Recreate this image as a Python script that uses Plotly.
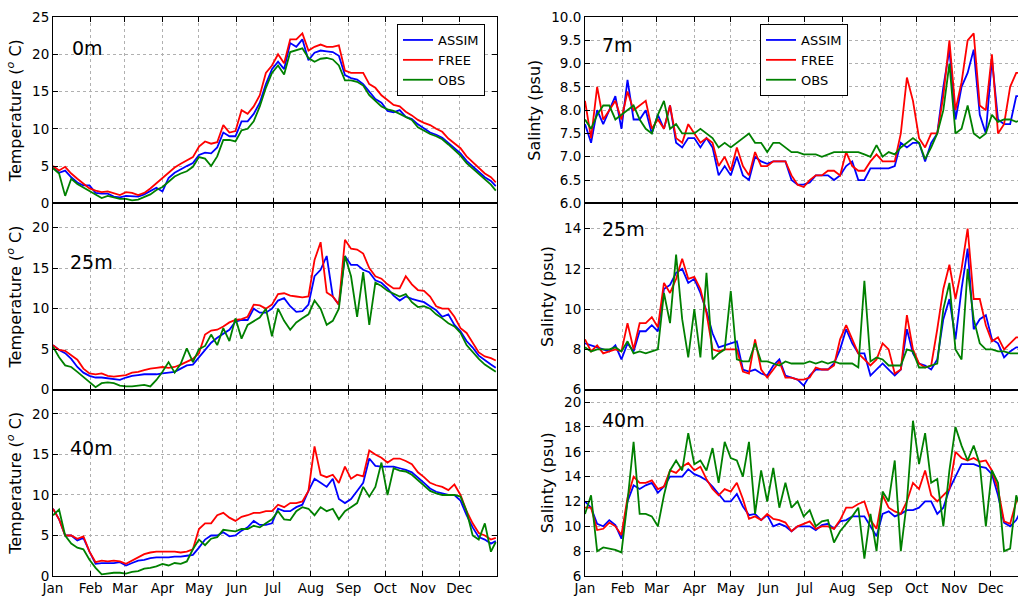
import pandas as pd
import plotly.graph_objects as go
from plotly.subplots import make_subplots

# ---------------- data ----------------
days = list(range(0, 361, 5)) + [364]
months = ["Jan", "Feb", "Mar", "Apr", "May", "Jun", "Jul", "Aug", "Sep", "Oct", "Nov", "Dec"]

# Temperature 0 m
t0_assim = [4.8,4.1,4.4,3.5,2.8,2.4,2.4,1.4,1.3,1.3,
            0.9,0.8,1.0,1.0,0.9,1.2,1.6,2.1,1.6,3.4,
            4.1,4.6,5.0,5.4,6.5,6.8,6.7,7.5,9.5,9.0,
            9.0,11.0,11.0,12.0,13.5,16.0,18.0,19.0,18.0,21.5,
            21.0,22.0,19.2,20.2,20.5,20.4,20.3,19.8,17.2,16.8,
            16.6,16.0,15.0,14.0,13.5,12.4,12.2,12.5,11.6,11.3,
            10.6,10.0,9.5,9.2,8.8,8.1,7.4,6.7,5.7,5.0,
            4.2,3.5,3.0,2.3]
t0_free = [5.0,4.4,4.9,4.0,3.3,2.6,2.0,1.7,1.5,1.6,
           1.3,1.1,1.5,1.4,1.1,1.4,2.0,2.7,3.3,4.1,
           4.8,5.3,5.8,6.2,7.6,8.3,8.0,8.2,10.5,9.5,
           9.7,12.5,12.0,13.0,14.5,17.5,18.5,20.0,18.8,22.0,
           22.0,22.8,20.5,21.0,21.3,21.0,21.0,21.2,17.8,17.5,
           17.5,17.5,16.0,15.5,14.5,13.8,13.2,13.0,12.3,11.8,
           11.2,10.8,10.5,10.0,9.6,8.7,8.0,7.4,6.3,5.5,
           4.7,4.0,3.5,2.8]
t0_obs = [4.7,4.0,1.0,3.3,2.6,2.1,1.6,1.1,0.7,1.0,
          0.8,0.6,0.6,0.4,0.5,0.8,1.2,1.8,2.2,2.9,
          3.6,4.0,4.3,4.9,6.2,6.0,5.0,6.3,8.5,8.5,
          8.3,9.8,10.0,11.0,13.0,15.5,17.5,18.5,17.3,20.3,
          20.5,20.8,19.5,19.0,19.4,19.5,19.3,18.5,16.5,16.5,
          16.3,15.8,14.5,13.8,13.0,12.6,12.4,12.0,11.6,11.2,
          10.2,9.7,9.3,9.0,8.6,7.9,7.1,6.4,5.4,4.7,
          4.0,3.2,2.5,1.7]

# Temperature 25 m
t25_assim = [5.5,4.9,4.5,3.8,2.8,2.1,1.7,1.5,1.5,1.4,
             1.3,1.2,1.5,1.7,1.8,1.9,1.9,1.9,2.0,2.1,
             2.2,2.6,3.0,3.1,4.0,5.0,5.8,6.4,6.9,7.4,
             8.4,8.6,8.6,10.0,9.5,9.5,10.0,11.0,11.3,10.3,
             9.6,9.7,10.5,14.0,14.8,16.5,11.5,10.5,16.5,15.4,
             15.4,14.8,14.5,13.5,13.2,12.5,11.6,11.0,11.5,11.2,
             11.0,10.8,10.3,9.8,9.0,9.3,8.0,7.2,6.0,5.2,
             4.2,3.6,3.1,2.7]
t25_free = [5.5,4.9,4.8,4.2,3.7,2.6,2.0,1.9,2.0,1.7,
            1.6,1.7,1.8,2.1,2.2,2.4,2.6,2.7,2.8,2.7,
            2.8,3.1,3.5,3.8,4.5,6.8,7.3,7.4,7.8,8.3,
            8.6,8.7,9.0,10.5,10.4,10.0,10.5,11.8,11.9,11.6,
            11.5,11.4,11.5,16.0,18.2,12.0,11.5,10.5,18.5,17.4,
            17.3,16.8,15.0,14.0,13.7,13.0,12.5,12.5,14.0,13.0,
            12.3,12.2,11.5,10.3,10.0,10.0,9.0,7.6,7.0,5.8,
            4.6,4.1,3.9,3.6]
t25_obs = [5.3,4.0,3.0,2.8,2.2,1.6,0.9,0.3,0.8,0.9,
           0.8,0.5,0.4,0.4,0.5,0.6,0.4,1.2,2.2,3.4,
           2.1,3.2,5.1,3.4,5.0,5.4,6.8,5.5,7.6,6.0,
           8.8,6.3,8.0,8.5,8.9,10.0,6.6,10.0,8.5,7.4,
           8.3,8.8,9.3,11.0,10.0,8.0,8.5,10.0,16.5,14.0,
           9.0,14.5,8.0,13.2,12.8,12.2,11.8,11.5,11.8,10.8,
           10.2,10.3,10.0,9.3,8.8,8.2,7.8,7.0,5.5,4.6,
           3.8,3.1,2.6,2.2]

# Temperature 40 m
t40_assim = [8.3,7.0,5.0,5.0,4.4,4.7,3.0,1.5,1.6,1.6,
             1.6,1.7,1.3,1.6,1.9,2.0,2.2,2.3,2.3,2.3,
             2.4,2.4,2.5,2.6,3.5,4.5,5.0,5.0,5.4,4.9,
             5.0,5.6,6.0,6.8,6.3,6.3,6.5,8.3,8.0,8.0,
             8.5,8.8,10.5,12.0,11.5,11.0,12.0,9.5,9.0,9.5,
             10.5,11.5,14.5,13.6,13.5,13.5,13.5,13.3,13.1,12.8,
             12.2,11.5,10.8,10.4,10.2,10.0,10.0,9.3,7.5,6.0,
             4.8,4.5,4.0,4.3]
t40_free = [8.3,7.0,5.0,5.0,4.6,4.9,3.0,1.7,1.9,1.8,
            1.9,1.8,1.5,1.9,2.4,2.7,2.9,3.0,3.0,3.0,
            3.0,2.9,3.0,3.3,5.8,6.5,6.5,7.5,7.8,7.2,
            6.8,7.3,7.5,7.8,7.8,8.0,8.0,8.8,8.5,9.0,
            9.0,9.2,10.5,16.0,12.5,12.2,12.5,11.5,13.5,12.0,
            12.5,12.3,15.5,15.0,14.6,14.0,14.5,14.5,14.2,13.8,
            12.8,12.2,11.5,11.2,11.0,10.6,11.3,10.0,8.0,6.5,
            5.3,5.0,4.5,4.7]
t40_obs = [7.5,8.2,5.0,4.0,3.5,3.3,2.0,1.0,0.2,0.3,
           0.4,0.4,0.3,0.5,0.6,0.9,1.0,1.2,1.5,1.3,
           1.6,1.5,1.8,3.3,4.5,3.8,4.6,4.8,5.7,5.6,
           5.5,5.8,5.8,6.2,6.0,6.5,7.0,8.0,7.0,6.9,
           8.0,8.5,8.3,7.5,8.5,8.0,8.3,7.0,8.0,8.5,
           9.0,11.0,9.8,11.0,14.0,10.0,13.3,13.0,12.9,12.5,
           11.8,11.2,10.5,10.2,10.0,10.0,10.0,9.8,8.0,5.0,
           4.5,6.5,3.0,4.2]

# Salinity 7 m
s7_assim = [7.7,7.3,8.0,7.7,8.0,8.3,7.6,8.65,7.8,7.8,
            8.0,7.5,7.9,7.6,8.1,7.3,7.2,7.4,7.4,7.2,
            7.4,7.2,6.6,6.8,6.6,7.0,6.6,6.5,7.0,6.9,
            6.85,6.9,6.9,6.9,6.5,6.4,6.4,6.45,6.6,6.6,
            6.6,6.5,6.6,6.8,6.9,6.5,6.5,6.75,6.75,6.75,
            6.75,6.8,7.3,7.2,7.3,7.3,6.9,7.3,7.5,8.5,
            9.3,7.8,8.5,8.8,9.3,7.9,7.5,9.1,7.8,7.7,
            7.7,8.3,8.3,8.3]
s7_free = [8.2,7.4,8.5,7.8,8.0,8.2,7.8,8.4,8.0,8.1,
           8.2,7.6,7.8,7.6,8.1,7.4,7.3,7.7,7.5,7.3,
           7.4,7.3,6.8,7.0,6.7,7.2,6.8,6.6,7.1,6.8,
           6.8,6.9,6.9,6.9,6.6,6.4,6.35,6.5,6.6,6.6,
           6.7,6.7,6.6,7.1,6.8,6.7,6.7,6.9,7.05,6.9,
           6.9,6.9,7.5,8.7,8.2,7.4,7.2,7.5,7.5,8.3,
           9.5,8.0,8.6,9.5,9.65,8.1,8.0,9.2,7.5,7.7,
           8.5,8.8,8.8,8.8]
s7_obs = [7.8,7.6,7.9,8.1,8.1,7.8,7.9,8.0,8.1,7.8,
          7.6,7.5,7.9,8.2,7.6,7.7,7.5,7.5,7.5,7.6,
          7.5,7.4,7.2,7.3,7.2,7.3,7.4,7.5,7.3,7.3,
          7.1,7.3,7.3,7.2,7.1,7.1,7.05,7.05,7.05,7.0,
          7.05,7.1,7.1,7.1,7.1,7.1,7.05,7.0,7.25,7.0,
          7.1,7.05,7.2,7.3,7.4,7.3,6.95,7.2,7.5,8.0,
          9.0,7.5,7.6,8.1,7.5,7.4,7.5,7.9,7.75,7.8,
          7.8,7.75,7.8,7.8]

# Salinity 25 m
s25_assim = [8.3,8.2,8.1,8.0,7.9,8.2,7.5,8.3,7.9,8.9,
             8.9,9.2,8.9,11.0,11.2,11.8,12.0,11.3,11.5,10.8,
             9.9,8.8,8.1,8.2,8.3,8.4,7.0,6.9,7.0,6.8,
             6.7,7.2,7.5,6.7,6.6,6.5,6.2,6.7,7.0,7.0,
             7.0,7.3,8.0,9.0,8.3,7.8,7.8,6.7,7.0,7.3,
             7.0,6.7,7.0,9.0,7.8,7.3,7.2,7.0,7.5,9.5,
             10.5,8.5,11.0,13.0,9.0,9.5,9.7,8.5,8.3,7.6,
             7.9,8.1,8.1,8.1]
s25_free = [8.5,7.9,8.2,7.8,7.9,8.0,7.9,9.3,8.0,9.3,
            9.3,9.6,9.1,11.3,10.8,11.5,12.5,11.5,11.6,11.0,
            9.8,8.0,7.9,8.0,8.0,8.0,6.9,6.8,8.5,7.0,
            6.6,7.0,7.4,6.6,6.6,6.5,6.5,6.6,7.1,7.0,
            7.0,7.2,8.5,9.2,8.5,7.8,7.5,7.2,7.5,8.3,
            8.0,6.8,7.0,9.7,8.0,7.3,7.1,7.2,9.0,11.0,
            12.2,10.5,12.0,14.0,10.5,10.5,9.2,8.4,8.6,8.0,
            8.3,8.6,8.6,8.6]
s25_obs = [8.1,7.9,8.0,8.0,8.0,8.1,7.9,8.4,7.8,7.9,
           7.8,7.9,8.0,10.8,9.3,12.7,9.5,7.6,10.0,7.6,
           11.8,7.5,7.8,8.0,10.9,7.5,7.4,7.4,8.3,7.4,
           7.4,7.3,7.2,7.4,7.3,7.3,7.3,7.4,7.3,7.4,
           7.3,7.4,7.3,7.3,7.3,7.1,11.4,7.4,7.6,7.5,
           7.2,7.2,7.2,8.0,7.9,7.1,7.1,7.2,7.3,10.0,
           11.3,8.0,7.5,12.0,9.5,8.3,8.0,8.0,7.9,7.9,
           7.8,7.8,7.8,7.8]

# Salinity 40 m
s40_assim = [12.0,11.5,10.2,10.0,10.5,10.1,9.0,12.0,13.3,13.0,
             13.3,13.5,12.7,13.2,14.0,14.0,14.0,14.6,14.2,14.0,
             13.7,13.2,12.6,12.0,12.0,12.6,11.6,10.9,11.0,10.5,
             10.9,10.0,10.2,10.0,9.6,10.0,10.0,10.0,9.7,10.1,
             10.2,9.8,10.4,10.5,10.8,10.8,10.8,10.0,9.2,11.0,
             11.2,10.8,11.0,11.3,11.3,11.5,12.0,12.0,11.0,11.5,
             13.0,14.0,15.0,15.0,15.0,14.8,14.7,14.2,12.5,10.3,
             10.0,10.5,11.5,11.5]
s40_free = [11.5,11.5,9.7,9.8,10.3,10.0,9.3,12.3,14.0,13.5,
            13.5,13.7,13.0,13.2,14.5,14.3,14.8,15.1,14.5,14.8,
            13.8,13.0,12.5,13.0,12.8,13.5,12.2,10.6,10.8,10.5,
            11.0,10.6,10.5,10.3,9.6,10.0,10.2,10.4,9.8,10.0,
            10.0,9.8,10.5,11.5,11.5,11.8,12.0,10.5,9.8,12.5,
            11.5,11.2,11.0,12.0,13.5,13.0,14.5,12.5,12.0,12.5,
            13.0,16.0,15.5,15.3,15.5,15.2,15.3,14.5,13.0,10.4,
            10.2,12.0,12.5,12.5]
s40_obs = [11.0,12.5,8.0,8.3,8.2,8.1,7.9,12.0,16.8,11.0,
           11.0,10.8,10.0,12.5,14.5,15.3,14.5,17.5,15.0,15.3,
           14.5,16.3,13.5,16.8,15.5,15.3,14.0,16.8,11.0,14.5,
           12.0,14.7,11.5,13.5,11.5,12.0,10.8,11.3,10.0,10.4,
           10.5,8.7,9.6,10.2,10.8,11.5,7.4,11.0,8.0,12.8,
           12.0,15.3,8.0,12.0,18.5,15.0,17.5,13.5,13.8,10.0,
           14.5,18.0,16.5,15.3,16.5,15.0,10.0,14.5,13.5,8.0,
           8.2,12.5,11.0,11.0]

series_names = ["ASSIM", "FREE", "OBS"]
depth_labels = ["0m", "7m", "25m", "25m", "40m", "40m"]

# ---------------- figure ----------------
W, H = 1018, 599
ML, MR, MT, MB = 53, 0, 17, 23
PW, PH = W - ML - MR, H - MT - MB
FONT = "DejaVu Sans"
COLORS = ["#0000ff", "#ff0000", "#008000"]

base = pd.Timestamp("2015-01-01")
dates = base + pd.to_timedelta(days, unit="D")
month_ticks = [pd.Timestamp(2015, m, 1) for m in range(1, 13)]

panels = [
    (1, 1, [t0_assim, t0_free, t0_obs]),
    (1, 2, [s7_assim, s7_free, s7_obs]),
    (2, 1, [t25_assim, t25_free, t25_obs]),
    (2, 2, [s25_assim, s25_free, s25_obs]),
    (3, 1, [t40_assim, t40_free, t40_obs]),
    (3, 2, [s40_assim, s40_free, s40_obs]),
]

fig = make_subplots(rows=3, cols=2)

for (r, c, ser) in panels:
    for k, vals in enumerate(ser):
        fig.add_trace(go.Scatter(
            x=dates, y=vals, mode="lines", name=series_names[k],
            line=dict(color=COLORS[k], width=1.8),
            showlegend=(r == 1),
            legend="legend" if c == 1 else "legend2",
        ), row=r, col=c)

def px_x(p):
    return (p - ML) / PW

def px_y(p):
    return (H - MB - p) / PH

xdom = {1: [0.0, px_x(497)], 2: [px_x(585), 1.0]}
ydom = {1: [2 / 3, 1.0], 2: [1 / 3, 2 / 3], 3: [0.0, 1 / 3]}
right_end = base + pd.Timedelta(days=(1018 - 585) / 1.2147)
xrng = {1: [base, pd.Timestamp("2016-01-01")], 2: [base, right_end]}

yspec = {
    (1, 1): ([0, 25], [0, 5, 10, 15, 20, 25], None),
    (2, 1): ([0, 23], [0, 5, 10, 15, 20], None),
    (3, 1): ([0, 23], [0, 5, 10, 15, 20], None),
    (1, 2): ([6, 10], [6.0, 6.5, 7.0, 7.5, 8.0, 8.5, 9.0, 9.5, 10.0], ".1f"),
    (2, 2): ([6, 15.25], [6, 8, 10, 12, 14], None),
    (3, 2): ([6, 21], [6, 8, 10, 12, 14, 16, 18, 20], None),
}

temp_title = "Temperature (<sup><i>o</i></sup> C)"
sal_title = "Salinty (psu)"

for (r, c, _) in panels:
    idx = (r - 1) * 2 + c
    xa = "xaxis" if idx == 1 else f"xaxis{idx}"
    ya = "yaxis" if idx == 1 else f"yaxis{idx}"
    rng, tv, fmt = yspec[(r, c)]
    fig.layout[xa].update(
        domain=xdom[c], range=xrng[c],
        tickvals=month_ticks, ticktext=months,
        showticklabels=(r == 3),
        ticks="inside", ticklen=5, tickcolor="black",
        showline=True, linecolor="black", linewidth=1, mirror="ticks",
        showgrid=True, gridcolor="#b0b0b0", griddash="dot", gridwidth=1,
        zeroline=False,
        tickfont=dict(family=FONT, size=13.5, color="black"),
    )
    fig.layout[ya].update(
        domain=ydom[r], range=rng, tickvals=tv,
        tickformat=fmt if fmt else "",
        ticks="inside", ticklen=5, tickcolor="black",
        showline=True, linecolor="black", linewidth=1,
        mirror=("ticks" if c == 1 else False),
        showgrid=True, gridcolor="#b0b0b0", griddash="dot", gridwidth=1,
        zeroline=False, automargin=False,
        tickfont=dict(family=FONT, size=13.5, color="black"),
        title=dict(text=temp_title if c == 1 else sal_title,
                   font=dict(family=FONT, size=16, color="black"), standoff=6),
    )

# depth labels
label_pos = [(70, 48), (600, 45), (68, 262), (600, 229), (68, 448), (600, 420)]
for (lx, ly), txt in zip(label_pos, depth_labels):
    fig.add_annotation(text=txt, x=px_x(lx), y=px_y(ly), xref="paper", yref="paper",
                       xanchor="left", yanchor="middle", showarrow=False,
                       font=dict(family=FONT, size=19, color="black"))

leg_common = dict(xanchor="left", yanchor="top", bgcolor="white",
                  bordercolor="black", borderwidth=1,
                  font=dict(family=FONT, size=13, color="black"),
                  tracegroupgap=0, itemwidth=30)
fig.update_layout(
    width=W, height=H,
    margin=dict(l=ML, r=MR, t=MT, b=MB, pad=0),
    paper_bgcolor="white", plot_bgcolor="white",
    font=dict(family=FONT, color="black"),
    legend=dict(x=px_x(397), y=px_y(24), **leg_common),
    legend2=dict(x=px_x(760), y=px_y(24), **leg_common),
)

fig.write_html("out.html")
